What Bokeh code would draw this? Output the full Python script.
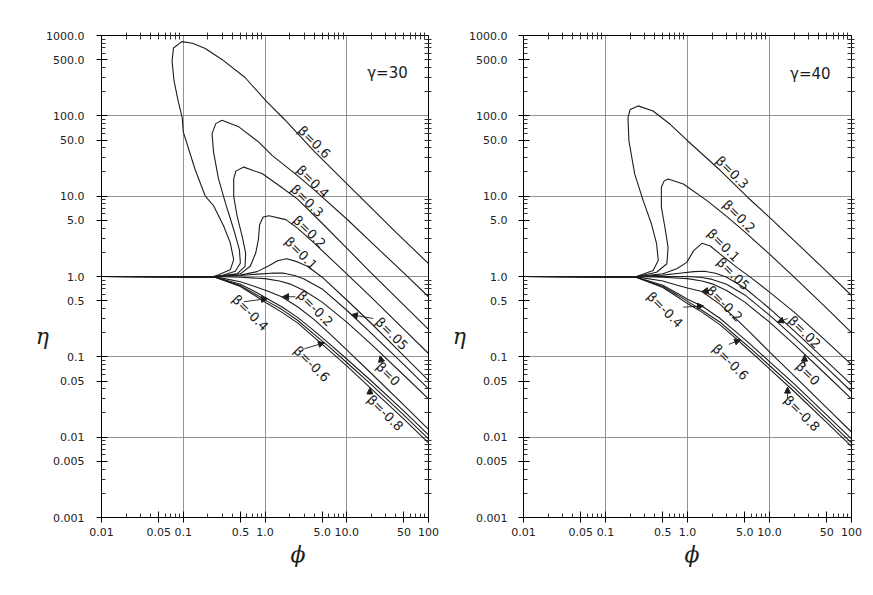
import math
from bokeh.plotting import figure
from bokeh.layouts import row
from bokeh.models import (Range1d, FixedTicker, LogAxis, CustomJSTickFormatter, Label, Title,
                          ColumnDataSource, Arrow, NormalHead)
from bokeh.core.properties import value
from bokeh.embed import file_html
from bokeh.resources import INLINE

# ---------------- axes ----------------
x_ticks = [0.01, 0.05, 0.1, 0.5, 1, 5, 10, 50, 100]
x_tick_labels = ["0.01", "0.05", "0.1", "0.5", "1.0", "5.0", "10.0", "50", "100"]
y_ticks = [0.001, 0.005, 0.01, 0.05, 0.1, 0.5, 1, 5, 10, 50, 100, 500, 1000]
y_tick_labels = ["0.001", "0.005", "0.01", "0.05", "0.1", "0.5", "1.0", "5.0", "10.0",
                 "50.0", "100.0", "500.0", "1000.0"]
x_decades = [0.01, 0.1, 1, 10, 100]
y_decades = [0.001, 0.01, 0.1, 1, 10, 100, 1000]

# ---------------- gamma = 30 (left) ----------------
phi_30_b06 = [0.01, 0.1, 0.235, 0.27, 0.376, 0.414, 0.376, 0.312, 0.235, 0.185, 0.139, 0.1, 0.097,
              0.087, 0.077, 0.073, 0.076, 0.096, 0.13, 0.186, 0.3, 0.57, 1.05, 1.7, 4, 15, 40, 100]
eta_30_b06 = [1, 1, 1.0, 1.05, 1.21, 1.62, 2.62, 4.25, 7.6, 10.1, 21.8, 63, 96,
              150, 275, 480, 700, 840, 800, 690, 500, 300, 150, 92, 36, 9.5, 3.55, 1.45]
phi_30_b04 = [0.01, 0.25, 0.297, 0.434, 0.5, 0.486, 0.414, 0.327, 0.27, 0.235, 0.225, 0.25, 0.297,
              0.478, 0.84, 1.23, 2.5, 4, 10, 25, 52, 100]
eta_30_b04 = [1, 1, 1.03, 1.16, 1.47, 2.16, 3.85, 8.3, 16.4, 35, 60, 80, 88,
              73, 47, 32, 18, 12, 5.2, 2.15, 1.06, 0.56]
phi_30_b03 = [0.01, 0.25, 0.455, 0.57, 0.58, 0.525, 0.455, 0.414, 0.414, 0.44, 0.55, 0.93, 1.5,
              2.5, 5, 10, 20, 50, 100]
eta_30_b03 = [1, 1, 1.08, 1.34, 1.96, 3.18, 5.7, 10, 16.4, 20.5, 23, 19, 13.5,
              9.2, 4.6, 2.25, 1.1, 0.44, 0.22]
phi_30_b02 = [0.01, 0.25, 0.5, 0.66, 0.77, 0.83, 0.86, 0.95, 1.12, 1.8, 2.5, 4, 10, 20, 50, 100]
eta_30_b02 = [1, 1, 1.08, 1.34, 1.96, 2.88, 4.45, 5.5, 5.7, 5.1, 4.0, 2.6, 1.08, 0.55, 0.22, 0.11]
phi_30_b01 = [0.01, 0.25, 0.5, 0.8, 1.1, 1.45, 1.85, 2.5, 3.3, 5, 10, 20, 50, 100]
eta_30_b01 = [1, 1, 1.04, 1.15, 1.35, 1.58, 1.66, 1.52, 1.34, 0.98, 0.51, 0.26, 0.103, 0.051]
phi_30_b005 = [0.01, 0.25, 0.5, 0.8, 1.2, 1.7, 2.3, 3, 5, 10, 20, 50, 100]
eta_30_b005 = [1, 1, 1.03, 1.07, 1.1, 1.1, 1.03, 0.93, 0.7, 0.38, 0.196, 0.08, 0.040]
phi_30_b0 = [0.01, 0.25, 0.5, 1, 1.5, 2, 3, 5, 10, 20, 50, 100]
eta_30_b0 = [1, 1, 0.98, 0.94, 0.88, 0.81, 0.67, 0.48, 0.27, 0.143, 0.059, 0.030]
phi_30_neg = [0.01, 0.25, 0.5, 0.75, 1.07, 1.6, 2.5, 4, 6, 10, 20, 50, 100]
eta_30_bm02 = [1, 0.99, 0.86, 0.75, 0.66, 0.56, 0.42, 0.29, 0.2, 0.122, 0.062, 0.025, 0.0125]
eta_30_bm04 = [1, 0.98, 0.8, 0.65, 0.53, 0.42, 0.31, 0.21, 0.148, 0.094, 0.05, 0.0211, 0.0107]
eta_30_bm06 = [1, 0.97, 0.77, 0.61, 0.49, 0.39, 0.285, 0.19, 0.135, 0.085, 0.045, 0.0188, 0.0095]
eta_30_bm08 = [1, 0.97, 0.75, 0.58, 0.46, 0.36, 0.265, 0.175, 0.122, 0.077, 0.04, 0.0168, 0.0085]

label_30_text = ["β=0.6", "β=0.4", "β=0.3", "β=0.2", "β=0.1", "β=.05", "β=0",
                 "β=-0.2", "β=-0.4", "β=-0.6", "β=-0.8"]
label_30_phi = [4.0, 3.84, 3.27, 3.49, 2.75, 35.5, 32, 4.1, 0.66, 3.73, 29.5]
label_30_eta = [47, 15.2, 8.75, 3.6, 1.95, 0.194, 0.061, 0.40, 0.353, 0.0814, 0.020]
arrow_30_phi0 = [21, 27, 2.35, 0.55, 3.03, 19.2]
arrow_30_eta0 = [0.30, 0.082, 0.56, 0.485, 0.126, 0.034]
arrow_30_phi1 = [11.4, 25.6, 1.64, 1.07, 5.34, 19.2]
arrow_30_eta1 = [0.335, 0.103, 0.56, 0.53, 0.15, 0.041]

# ---------------- gamma = 40 (right) ----------------
phi_40_b03 = [0.01, 0.24, 0.38, 0.44, 0.42, 0.364, 0.288, 0.227, 0.193, 0.188, 0.2, 0.25, 0.38,
              0.61, 1.0, 2.5, 5.4, 10, 25, 50, 100]
eta_40_b03 = [1, 1, 1.19, 1.58, 2.55, 4.5, 8.8, 18.9, 49, 95, 120, 133, 115,
              79, 49, 21, 9.7, 5.45, 2.25, 1.15, 0.58]
phi_40_b02 = [0.01, 0.24, 0.42, 0.56, 0.58, 0.53, 0.48, 0.48, 0.52, 0.58, 0.89, 1.73, 3, 5, 10,
              20, 50, 100]
eta_40_b02 = [1, 1, 1.13, 1.44, 2.31, 4.1, 7.3, 12.9, 15.5, 16.4, 14.2, 8.8, 5.6, 3.6, 1.9,
              0.98, 0.4, 0.2]
phi_40_b01 = [0.01, 0.24, 0.5, 0.74, 0.98, 1.19, 1.5, 1.9, 2.5, 4, 6, 10, 20, 50, 100]
eta_40_b01 = [1, 1, 1.08, 1.25, 1.5, 2.1, 2.59, 2.4, 1.9, 1.3, 0.96, 0.64, 0.36, 0.155, 0.08]
phi_40_b005 = [0.01, 0.24, 0.5, 0.8, 1.2, 1.6, 2.2, 3, 5, 10, 20, 50, 100]
eta_40_b005 = [1, 1, 1.04, 1.1, 1.15, 1.16, 1.1, 0.98, 0.72, 0.4, 0.21, 0.088, 0.045]
phi_40_b002 = [0.01, 0.24, 0.5, 1, 1.5, 2, 3, 5, 10, 12.5, 20, 50, 100]
eta_40_b002 = [1, 1, 1.0, 1.0, 0.97, 0.92, 0.8, 0.59, 0.33, 0.27, 0.175, 0.073, 0.037]
phi_40_b0 = [0.01, 0.25, 0.5, 1, 1.5, 2, 3, 5, 10, 20, 50, 100]
eta_40_b0 = [1, 1, 0.98, 0.94, 0.88, 0.81, 0.67, 0.48, 0.27, 0.143, 0.059, 0.030]
phi_40_neg = [0.01, 0.24, 0.5, 0.75, 1, 1.5, 2.5, 4, 6, 10, 20, 50, 100]
eta_40_bm02 = [1, 0.99, 0.88, 0.78, 0.72, 0.65, 0.45, 0.29, 0.195, 0.115, 0.058, 0.0232, 0.0116]
eta_40_bm04 = [1, 0.98, 0.78, 0.62, 0.52, 0.43, 0.3, 0.2, 0.14, 0.087, 0.046, 0.0188, 0.0095]
eta_40_bm06 = [1, 0.97, 0.75, 0.59, 0.49, 0.38, 0.27, 0.178, 0.125, 0.078, 0.041, 0.0168, 0.0085]
eta_40_bm08 = [1, 0.97, 0.73, 0.56, 0.46, 0.36, 0.25, 0.165, 0.114, 0.071, 0.037, 0.0152, 0.0077]

label_40_text = ["β=0.3", "β=0.2", "β=0.1", "β=.05", "β=.02", "β=0",
                 "β=-0.2", "β=-0.4", "β=-0.6", "β=-0.8"]
label_40_phi = [3.5, 4.24, 2.75, 3.6, 26.7, 29.3, 2.82, 0.53, 3.34, 24.8]
label_40_eta = [19.8, 5.6, 2.45, 1.08, 0.203, 0.062, 0.458, 0.386, 0.086, 0.0197]
arrow_40_phi0 = [16.7, 26.7, 1.99, 0.89, 3.19, 16.6]
arrow_40_eta0 = [0.30, 0.078, 0.68, 0.415, 0.143, 0.030]
arrow_40_phi1 = [12.5, 26.7, 1.5, 1.57, 4.44, 16.6]
arrow_40_eta1 = [0.27, 0.105, 0.65, 0.43, 0.163, 0.042]

FONT = "DejaVu Sans"
INK = "#1c1c1c"
NB = "\u00a0"


def minor_positions(decades):
    out = []
    for d in decades[:-1]:
        for m in (2, 3, 4, 6, 7, 8, 9):
            out.append(d * m)
    return out


def minor_all(decades):
    out = []
    for d in decades[:-1]:
        for m in (2, 3, 4, 5, 6, 7, 8, 9):
            out.append(d * m)
    return out


FMT = """
const lt = Math.log10(tick);
for (let i = 0; i < t.length; i++) {
  if (Math.abs(Math.log10(t[i]) - lt) < 1e-6) return l[i];
}
return "";
"""


def make_panel(curves, labels, arrows, gamma_text, gamma_pos, phi_offset, fw, borders, ystand,
               eta_standoff):
    bl, br, bt, bb = borders
    p = figure(frame_width=fw, frame_height=482, x_axis_type="log", y_axis_type="log",
               x_range=Range1d(0.01, 100), y_range=Range1d(0.001, 1000),
               output_backend="svg", toolbar_location=None,
               min_border_left=bl, min_border_right=br, min_border_top=bt, min_border_bottom=bb)
    p.outline_line_color = "black"
    p.background_fill_color = "white"
    p.border_fill_color = "white"

    xa = p.xaxis[0]
    ya = p.yaxis[0]
    xa.ticker = FixedTicker(ticks=x_ticks, minor_ticks=minor_positions(x_decades))
    ya.ticker = FixedTicker(ticks=y_ticks, minor_ticks=minor_positions(y_decades))
    xa.formatter = CustomJSTickFormatter(args=dict(t=x_ticks, l=x_tick_labels), code=FMT)
    ya.formatter = CustomJSTickFormatter(args=dict(t=y_ticks, l=y_tick_labels), code=FMT)
    for ax in (xa, ya):
        ax.major_tick_in = 6
        ax.major_tick_out = 5
        ax.minor_tick_in = 4
        ax.minor_tick_out = 0
        ax.axis_line_color = "black"
        ax.major_tick_line_color = "black"
        ax.minor_tick_line_color = "#333333"
        ax.major_label_text_font = FONT
        ax.major_label_text_font_size = "11px"
        ax.major_label_text_color = "#222222"
    xa.major_label_standoff = 5
    ya.major_label_standoff = ystand

    # eta as a horizontal axis label, pushed below the centre by blank lines
    ya.axis_label = (NB + "\n") * 4 + "η"
    ya.axis_label_orientation = "horizontal"
    ya.axis_label_text_font = "DejaVu Serif"
    ya.axis_label_text_font_style = "italic"
    ya.axis_label_text_font_size = "22px"
    ya.axis_label_text_color = INK
    ya.axis_label_standoff = eta_standoff

    top = LogAxis(ticker=FixedTicker(ticks=[], minor_ticks=minor_all(x_decades)))
    right = LogAxis(ticker=FixedTicker(ticks=[], minor_ticks=minor_all(y_decades)))
    for ax in (top, right):
        ax.minor_tick_in = 4
        ax.minor_tick_out = 3
        ax.axis_line_color = "black"
        ax.minor_tick_line_color = "#333333"
    p.add_layout(top, "above")
    p.add_layout(right, "right")

    p.add_layout(Title(text="ϕ", align="left", offset=phi_offset, text_font="DejaVu Serif",
                       text_font_style="italic", text_font_size="22px", text_color=INK,
                       standoff=2), "below")

    p.xgrid.ticker = FixedTicker(ticks=x_decades)
    p.ygrid.ticker = FixedTicker(ticks=y_decades)
    for g in (p.xgrid, p.ygrid):
        g.grid_line_color = "#808080"
        g.grid_line_width = 1
        g.grid_line_alpha = 0.85

    for ph, et in curves:
        p.line(ph, et, line_color=INK, line_width=1.1)

    ltext, lphi, leta = labels
    src = ColumnDataSource(dict(x=lphi, y=leta, t=ltext))
    p.text(x="x", y="y", text="t", source=src, angle=-math.pi / 4,
           text_font=value(FONT), text_font_size="13px", text_color=INK,
           text_align="center", text_baseline="middle")

    a0x, a0y, a1x, a1y = arrows
    asrc = ColumnDataSource(dict(x0=a0x, y0=a0y, x1=a1x, y1=a1y))
    p.add_layout(Arrow(end=NormalHead(size=6, fill_color=INK, line_color=INK),
                       x_start="x0", y_start="y0", x_end="x1", y_end="y1",
                       source=asrc, line_color=INK, line_width=0.9))

    p.add_layout(Label(x=gamma_pos[0], y=gamma_pos[1], text=gamma_text,
                       text_font=FONT, text_font_size="15px", text_color=INK,
                       text_align="center", text_baseline="middle"))
    return p


curves_30 = [(phi_30_b06, eta_30_b06), (phi_30_b04, eta_30_b04), (phi_30_b03, eta_30_b03),
             (phi_30_b02, eta_30_b02), (phi_30_b01, eta_30_b01), (phi_30_b005, eta_30_b005),
             (phi_30_b0, eta_30_b0), (phi_30_neg, eta_30_bm02), (phi_30_neg, eta_30_bm04),
             (phi_30_neg, eta_30_bm06), (phi_30_neg, eta_30_bm08)]
curves_40 = [(phi_40_b03, eta_40_b03), (phi_40_b02, eta_40_b02), (phi_40_b01, eta_40_b01),
             (phi_40_b005, eta_40_b005), (phi_40_b002, eta_40_b002), (phi_40_b0, eta_40_b0),
             (phi_40_neg, eta_40_bm02), (phi_40_neg, eta_40_bm04), (phi_40_neg, eta_40_bm06),
             (phi_40_neg, eta_40_bm08)]

p1 = make_panel(curves_30, (label_30_text, label_30_phi, label_30_eta),
                (arrow_30_phi0, arrow_30_eta0, arrow_30_phi1, arrow_30_eta1),
                "γ=30", (31.5, 341), 189, 327, (101, 11, 34, 66), 12, -6)
p2 = make_panel(curves_40, (label_40_text, label_40_phi, label_40_eta),
                (arrow_40_phi0, arrow_40_eta0, arrow_40_phi1, arrow_40_eta1),
                "γ=40", (31.5, 330), 161, 328, (84, 13, 35, 65), 11, 0)

layout = row(p1, p2)
open("out.html", "w").write(file_html(layout, INLINE))
